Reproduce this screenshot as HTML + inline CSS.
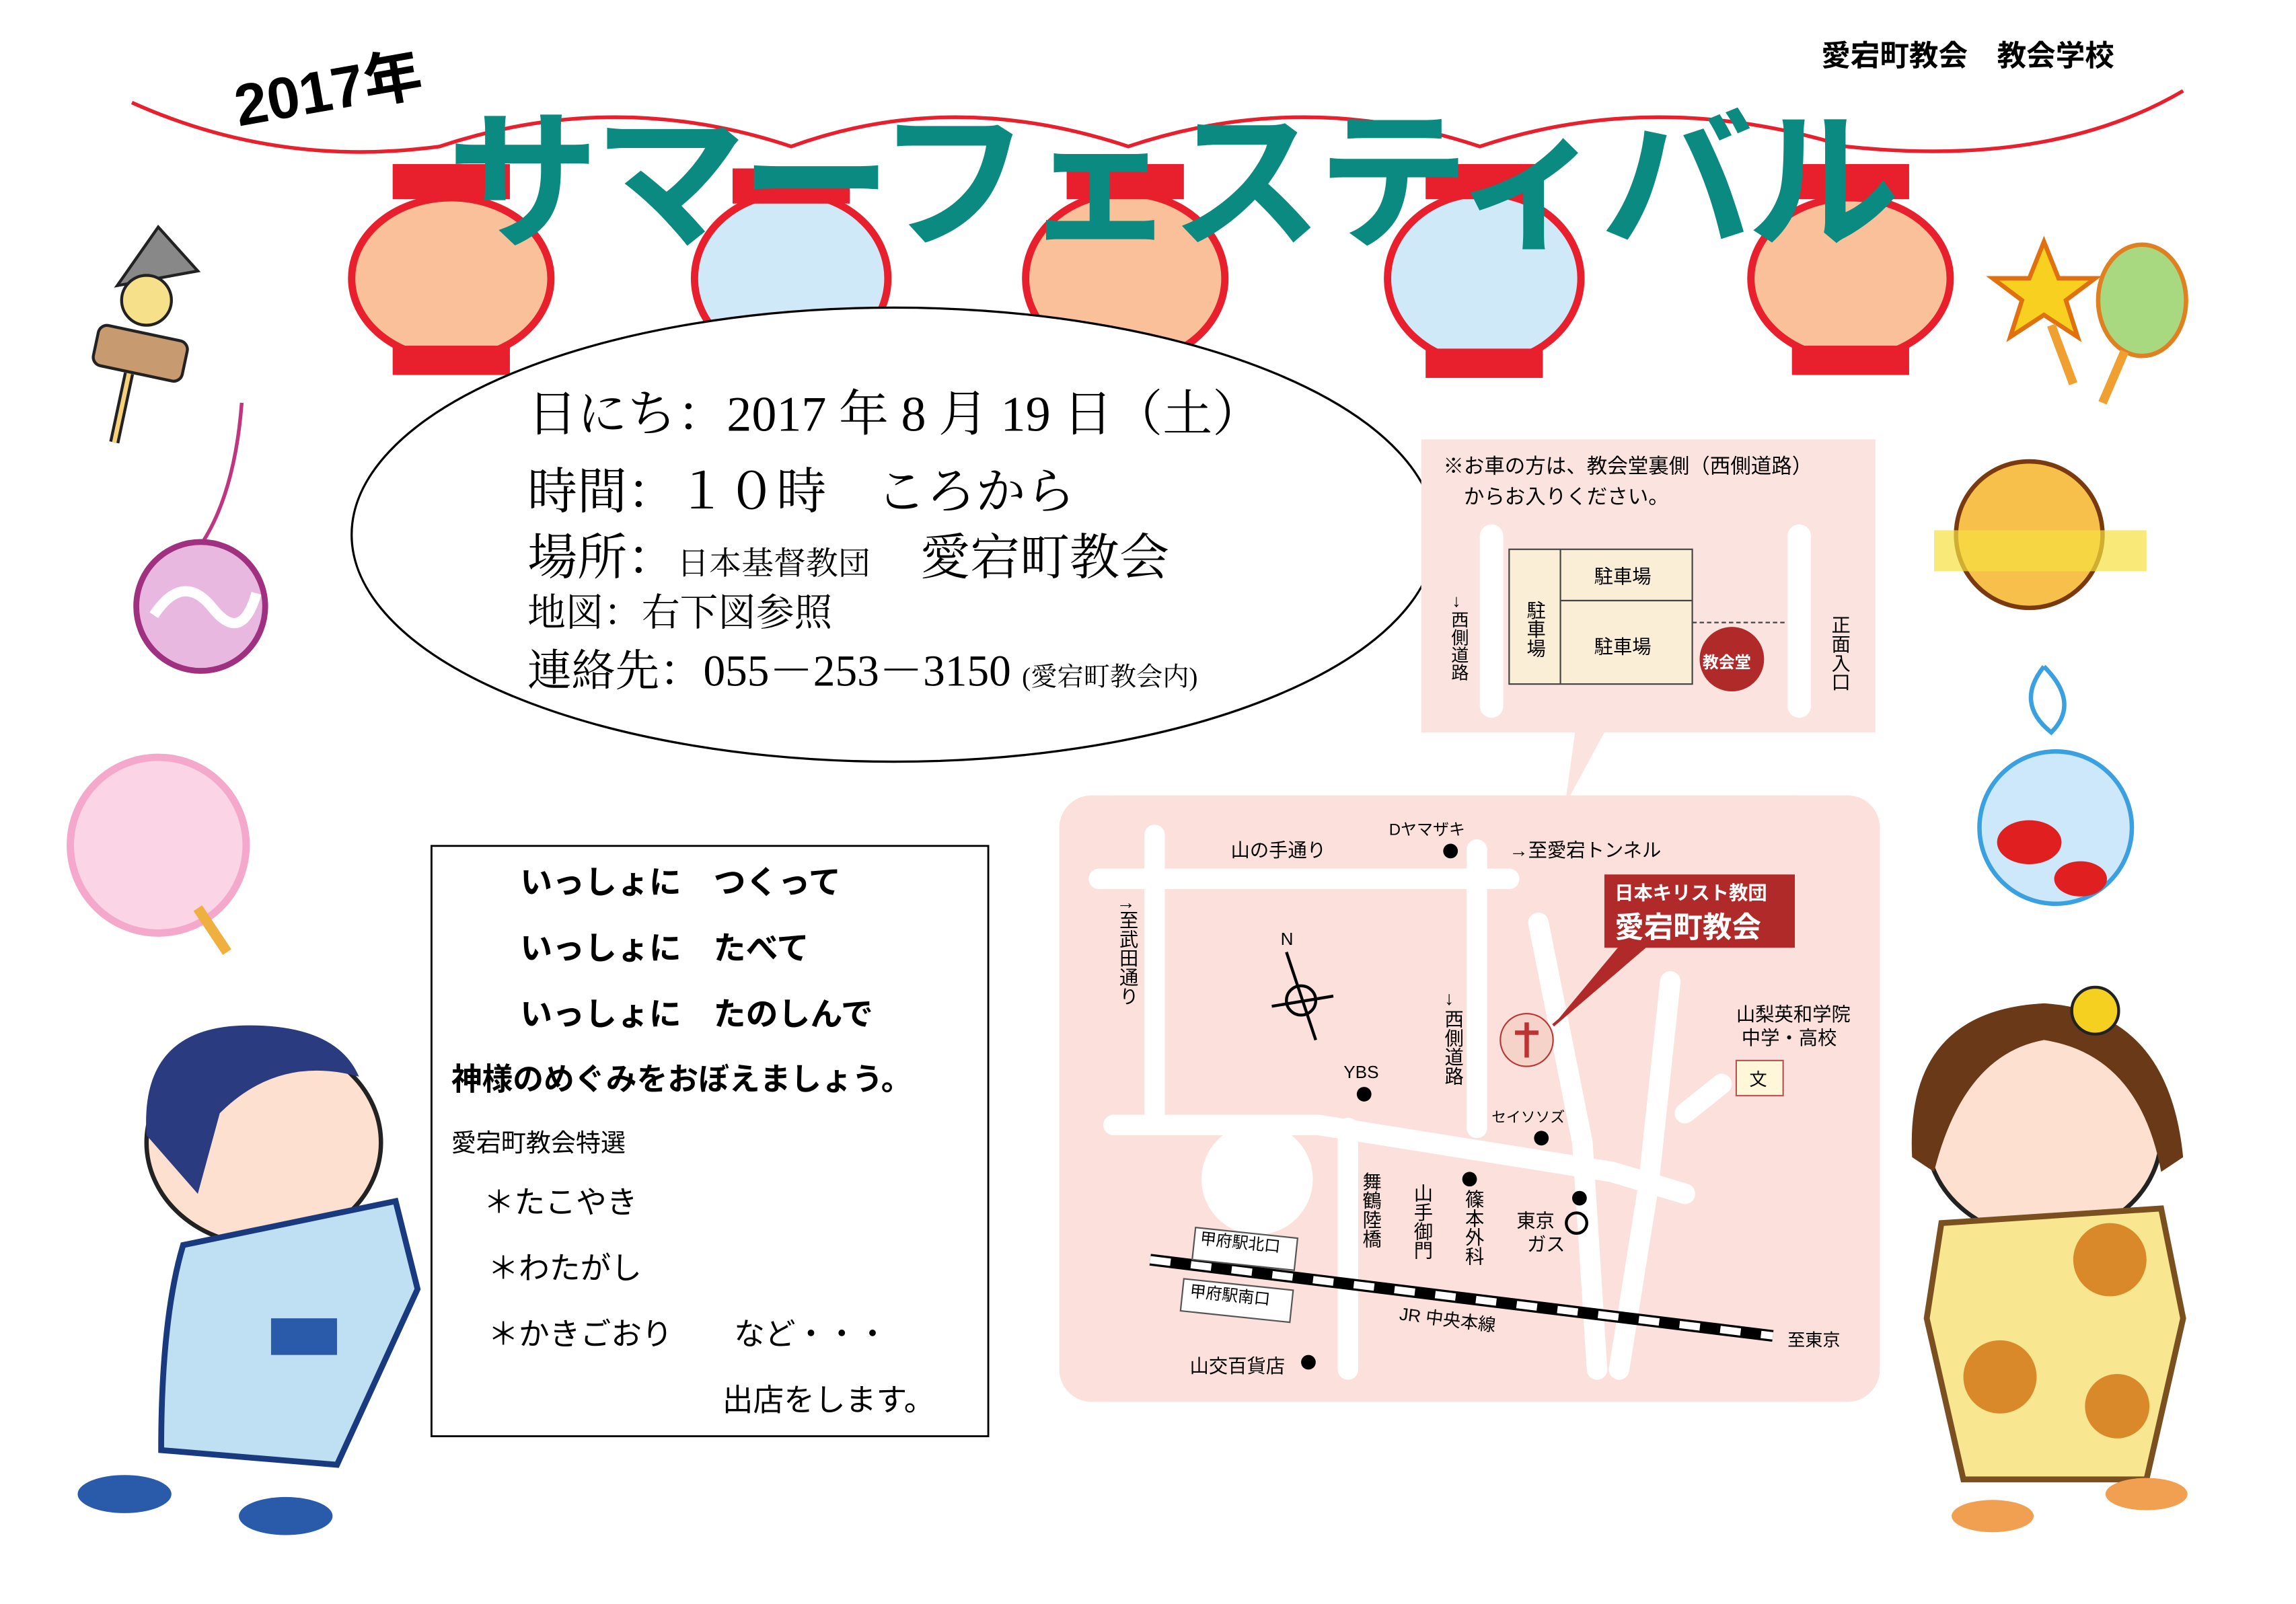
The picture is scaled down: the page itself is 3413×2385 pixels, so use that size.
<!DOCTYPE html>
<html><head><meta charset="utf-8"><style>
html,body{margin:0;padding:0;background:#fff;width:3413px;height:2385px;overflow:hidden}
#s{position:absolute;left:0;top:0;width:1567px;height:1095px;transform:scale(2.178);transform-origin:0 0;font-family:"Liberation Sans","Noto Sans CJK JP",sans-serif}
.a{position:absolute;white-space:nowrap}
.m{font-family:"Liberation Serif","Noto Serif CJK SC",serif}
</style></head><body><div id="s">
<svg width="1567" height="1095" style="position:absolute;left:0;top:0">
<path d="M90 70 Q190 115 300 100 Q420 60 540 100 Q650 60 770 100 Q890 60 1010 100 Q1130 60 1260 100 Q1400 115 1490 62" fill="none" stroke="#e8202e" stroke-width="2.5"/>
<g stroke="#e8202e" stroke-width="5">
<ellipse cx="308" cy="190" rx="68" ry="55" fill="#f9c09a"/>
<ellipse cx="540" cy="190" rx="66" ry="58" fill="#cfe9f8"/>
<ellipse cx="768" cy="190" rx="68" ry="58" fill="#f9c09a"/>
<ellipse cx="1013" cy="190" rx="66" ry="58" fill="#cfe9f8"/>
<ellipse cx="1263" cy="190" rx="68" ry="55" fill="#f9c09a"/>
</g>
<g fill="#e8202e">
<rect x="268" y="112" width="80" height="24"/><rect x="268" y="236" width="80" height="20"/>
<rect x="500" y="115" width="80" height="24"/><rect x="500" y="240" width="80" height="20"/>
<rect x="728" y="112" width="80" height="24"/><rect x="728" y="238" width="80" height="20"/>
<rect x="973" y="112" width="80" height="24"/><rect x="973" y="238" width="80" height="20"/>
<rect x="1223" y="112" width="80" height="24"/><rect x="1223" y="236" width="80" height="20"/>
</g>
<ellipse cx="610" cy="365" rx="370" ry="155" fill="#fff" stroke="#000" stroke-width="1.5"/>
<path d="M970 300 H1280 V500 H1095 L1068 550 L1075 500 H970Z" fill="#fbe4df"/>
<rect x="1010" y="358" width="16" height="132" rx="8" fill="#fff"/>
<rect x="1220" y="358" width="16" height="132" rx="8" fill="#fff"/>
<rect x="1030" y="375" width="125" height="92" fill="#fbeed6" stroke="#444"/>
<line x1="1065" y1="375" x2="1065" y2="467" stroke="#444"/>
<line x1="1065" y1="410" x2="1155" y2="410" stroke="#444"/>
<circle cx="1182" cy="450" r="22" fill="#b02a2a"/>
<line x1="1155" y1="425" x2="1220" y2="425" stroke="#444" stroke-dasharray="3 2"/>
<rect x="723" y="543" width="560" height="414" rx="22" fill="#fbe0dc"/>
<g stroke="#fff" stroke-width="14" fill="none" stroke-linecap="round">
<path d="M750 600 H1030"/><path d="M788 570 V760"/><path d="M1008 580 V770"/>
<path d="M760 768 H900 L1100 800 L1150 815"/><path d="M1140 670 L1125 810 L1105 935"/>
<path d="M1050 630 L1080 780 L1090 935"/><path d="M920 770 V935"/>
<path d="M1150 760 L1175 740"/>
</g>
<circle cx="858" cy="805" r="38" fill="#fff"/>
<path d="M785 860 L1210 912" stroke="#000" stroke-width="8"/>
<path d="M785 860 L1210 912" stroke="#fff" stroke-width="5" stroke-dasharray="14 14"/>
<circle cx="888" cy="683" r="10" fill="none" stroke="#000" stroke-width="2"/>
<line x1="878" y1="650" x2="898" y2="710" stroke="#000" stroke-width="2"/>
<line x1="868" y1="687" x2="910" y2="680" stroke="#000" stroke-width="2"/>
<circle cx="990" cy="581" r="5"/><circle cx="931" cy="747" r="5"/><circle cx="1052" cy="777" r="5"/>
<circle cx="1003" cy="805" r="5"/><circle cx="1078" cy="818" r="5"/><circle cx="893" cy="930" r="5"/>
<circle cx="1076" cy="835" r="7" fill="none" stroke="#000" stroke-width="2"/>
<circle cx="1042" cy="710" r="18" fill="#f5d3c8" stroke="#b33"/>
<path d="M1042 698 V722 M1034 705 H1050" stroke="#b33" stroke-width="3"/>
<path d="M1060 700 L1130 640 L1110 640" fill="#b02a2a" stroke="#b02a2a" stroke-width="2"/>
<rect x="1095" y="597" width="130" height="50" fill="#b02a2a"/>
<rect x="1185" y="724" width="32" height="24" fill="#fff7d8" stroke="#b55"/>
<rect x="816" y="838" width="70" height="22" fill="#fff" stroke="#555" transform="rotate(6 816 838)"/>
<rect x="808" y="873" width="75" height="22" fill="#fff" stroke="#555" transform="rotate(6 808 873)"/>
<rect x="294.5" y="577.5" width="380" height="403" fill="#fff" stroke="#000" stroke-width="1.3"/>
<path d="M80 195 L108 155 L135 185Z" fill="#888" stroke="#222" stroke-width="2"/>
<circle cx="100" cy="205" r="17" fill="#f7e08a" stroke="#222" stroke-width="2"/>
<rect x="65" y="227" width="62" height="28" rx="6" fill="#c89a70" stroke="#222" stroke-width="2" transform="rotate(12 95 240)"/>
<line x1="88" y1="255" x2="78" y2="302" stroke="#222" stroke-width="7"/>
<line x1="88" y1="255" x2="78" y2="302" stroke="#f5d27a" stroke-width="3"/>
<path d="M165 275 Q160 340 135 375" fill="none" stroke="#c03580" stroke-width="2.5"/>
<circle cx="137" cy="414" r="44" fill="#e8b8e0" stroke="#a03080" stroke-width="4"/>
<path d="M105 420 Q125 390 145 415 T175 405" fill="none" stroke="#fff" stroke-width="7"/>
<circle cx="108" cy="577" r="60" fill="#fbd4e6" stroke="#f3a8cc" stroke-width="5"/>
<line x1="135" y1="620" x2="155" y2="650" stroke="#f0b040" stroke-width="7"/>
<ellipse cx="180" cy="780" rx="80" ry="70" fill="#fde0d0" stroke="#222" stroke-width="3"/>
<path d="M100 775 Q95 700 170 700 Q230 700 245 735 Q190 720 150 760 L135 815Z" fill="#2b3b80"/>
<path d="M125 850 L270 820 L285 880 L230 1000 L110 990 Q110 900 125 850Z" fill="#bfe0f2" stroke="#1a3a80" stroke-width="4"/>
<rect x="185" y="900" width="45" height="25" fill="#2a5aaa"/>
<ellipse cx="85" cy="1020" rx="32" ry="13" fill="#2a5aaa"/>
<ellipse cx="195" cy="1035" rx="32" ry="13" fill="#2a5aaa"/>
<ellipse cx="1395" cy="775" rx="80" ry="70" fill="#fde0d0" stroke="#222" stroke-width="3"/>
<path d="M1305 790 Q1300 690 1395 685 Q1480 690 1490 790 L1475 800 Q1460 720 1395 710 Q1340 720 1320 800Z" fill="#6a3a18"/>
<circle cx="1430" cy="690" r="16" fill="#f5d020" stroke="#222" stroke-width="2"/>
<path d="M1325 835 L1475 825 L1490 900 L1465 1010 L1340 1010 L1315 900Z" fill="#f8e790" stroke="#7a5020" stroke-width="4"/>
<circle cx="1365" cy="940" r="25" fill="#d9892a"/><circle cx="1440" cy="860" r="25" fill="#d9892a"/><circle cx="1445" cy="960" r="22" fill="#d9892a"/>
<ellipse cx="1360" cy="1035" rx="28" ry="11" fill="#f0a050"/><ellipse cx="1465" cy="1020" rx="28" ry="11" fill="#f0a050"/>
<path d="M1395 165 L1405 190 L1430 190 L1410 205 L1418 230 L1395 215 L1372 230 L1380 205 L1360 190 L1385 190Z" fill="#f8d020" stroke="#e07010" stroke-width="3"/>
<line x1="1400" y1="222" x2="1415" y2="262" stroke="#f0a030" stroke-width="6"/>
<ellipse cx="1462" cy="205" rx="30" ry="38" fill="#a8d880" stroke="#e08020" stroke-width="3"/>
<line x1="1450" y1="240" x2="1435" y2="275" stroke="#f0a030" stroke-width="6"/>
<circle cx="1385" cy="365" r="50" fill="#f7c04a" stroke="#7a3a10" stroke-width="3"/>
<rect x="1320" y="362" width="145" height="28" fill="#f7e040" opacity=".7"/>
<path d="M1395 455 Q1375 480 1400 500 Q1420 480 1395 455" fill="none" stroke="#3aa0e0" stroke-width="3"/>
<circle cx="1403" cy="565" r="52" fill="#cde8fa" stroke="#3aa0e0" stroke-width="3"/>
<ellipse cx="1385" cy="575" rx="22" ry="15" fill="#e02020"/><ellipse cx="1420" cy="600" rx="18" ry="12" fill="#e02020"/>
</svg>

<div class="a" style="left:1243px;top:22px;font-size:20px;font-weight:bold">愛宕町教会　教会学校</div>
<div class="a" style="left:165px;top:40px;font-size:40px;font-weight:bold;transform:rotate(-10deg);transform-origin:0 100%">2017年</div>
<div class="a" style="left:305px;top:40px;font-size:104px;color:#0a8a80;font-weight:bold;letter-spacing:-4px">サマーフェスティバル</div>

<div class="a m" style="left:360px;top:263px;font-size:34px;line-height:42px">日にち：2017 年 8 月 19 日（土）</div>
<div class="a m" style="left:360px;top:308px;font-size:34px">時間：１０時　ころから</div>
<div class="a m" style="left:360px;top:353px;font-size:34px">場所：<span style="font-size:22px">日本基督教団</span>　愛宕町教会</div>
<div class="a m" style="left:360px;top:398px;font-size:26px">地図：右下図参照</div>
<div class="a m" style="left:360px;top:433px;font-size:30px">連絡先：055－253－3150 <span style="font-size:18px">(愛宕町教会内)</span></div>

<div class="a" style="left:985px;top:308px;font-size:14px;line-height:21px">※お車の方は、教会堂裏側（西側道路）<br>　からお入りください。</div>
<div class="a" style="left:1088px;top:383px;font-size:13px">駐車場</div>
<div class="a" style="left:1088px;top:431px;font-size:13px">駐車場</div>
<div class="a" style="left:1162px;top:444px;font-size:11px;color:#fff;font-weight:bold">教会堂</div>
<div class="a" style="left:1038px;top:410px;font-size:13px;writing-mode:vertical-rl">駐車場</div>
<div class="a" style="left:988px;top:405px;font-size:12px;writing-mode:vertical-rl">→西側道路</div>
<div class="a" style="left:1246px;top:420px;font-size:13px;writing-mode:vertical-rl">正面入口</div>

<div class="a" style="left:840px;top:570px;font-size:13px">山の手通り</div>
<div class="a" style="left:948px;top:558px;font-size:11px">Dヤマザキ</div>
<div class="a" style="left:1030px;top:570px;font-size:13px">→至愛宕トンネル</div>
<div class="a" style="left:1102px;top:599px;font-size:13px;color:#fff;font-weight:bold">日本キリスト教団</div>
<div class="a" style="left:1102px;top:617px;font-size:20px;color:#fff;font-weight:bold">愛宕町教会</div>
<div class="a" style="left:760px;top:615px;font-size:13px;writing-mode:vertical-rl">↑至武田通り</div>
<div class="a" style="left:874px;top:634px;font-size:12px">N</div>
<div class="a" style="left:982px;top:676px;font-size:13px;writing-mode:vertical-rl">→西側道路</div>
<div class="a" style="left:1185px;top:685px;font-size:13px;line-height:16px">山梨英和学院<br>&nbsp;中学・高校</div>
<div class="a" style="left:1194px;top:728px;font-size:12px">文</div>
<div class="a" style="left:917px;top:725px;font-size:12px">YBS</div>
<div class="a" style="left:1018px;top:754px;font-size:10px">セイソソズ</div>
<div class="a" style="left:926px;top:800px;font-size:13px;writing-mode:vertical-rl">舞鶴陸橋</div>
<div class="a" style="left:961px;top:808px;font-size:13px;writing-mode:vertical-rl">山手御門</div>
<div class="a" style="left:996px;top:812px;font-size:13px;writing-mode:vertical-rl">篠本外科</div>
<div class="a" style="left:1035px;top:826px;font-size:13px;line-height:16px">東京<br>&nbsp;&nbsp;ガス</div>
<div class="a" style="left:819px;top:840px;font-size:11px;transform:rotate(6deg)">甲府駅北口</div>
<div class="a" style="left:812px;top:876px;font-size:11px;transform:rotate(6deg)">甲府駅南口</div>
<div class="a" style="left:955px;top:892px;font-size:12px;transform:rotate(7deg)">JR 中央本線</div>
<div class="a" style="left:1220px;top:906px;font-size:12px">至東京</div>
<div class="a" style="left:812px;top:922px;font-size:13px">山交百貨店</div>

<div class="a" style="left:355px;top:585px;font-size:22px;font-weight:bold">いっしょに　つくって</div>
<div class="a" style="left:355px;top:630px;font-size:22px;font-weight:bold">いっしょに　たべて</div>
<div class="a" style="left:355px;top:675px;font-size:22px;font-weight:bold">いっしょに　たのしんで</div>
<div class="a" style="left:308px;top:721px;font-size:21px;font-weight:bold">神様のめぐみをおぼえましょう。</div>
<div class="a" style="left:308px;top:766px;font-size:17px">愛宕町教会特選</div>
<div class="a" style="left:330px;top:805px;font-size:21px">＊たこやき</div>
<div class="a" style="left:333px;top:850px;font-size:21px">＊わたがし</div>
<div class="a" style="left:333px;top:895px;font-size:21px">＊かきごおり　　など・・・</div>
<div class="a" style="left:493px;top:940px;font-size:21px">出店をします。</div>
</div></body></html>
